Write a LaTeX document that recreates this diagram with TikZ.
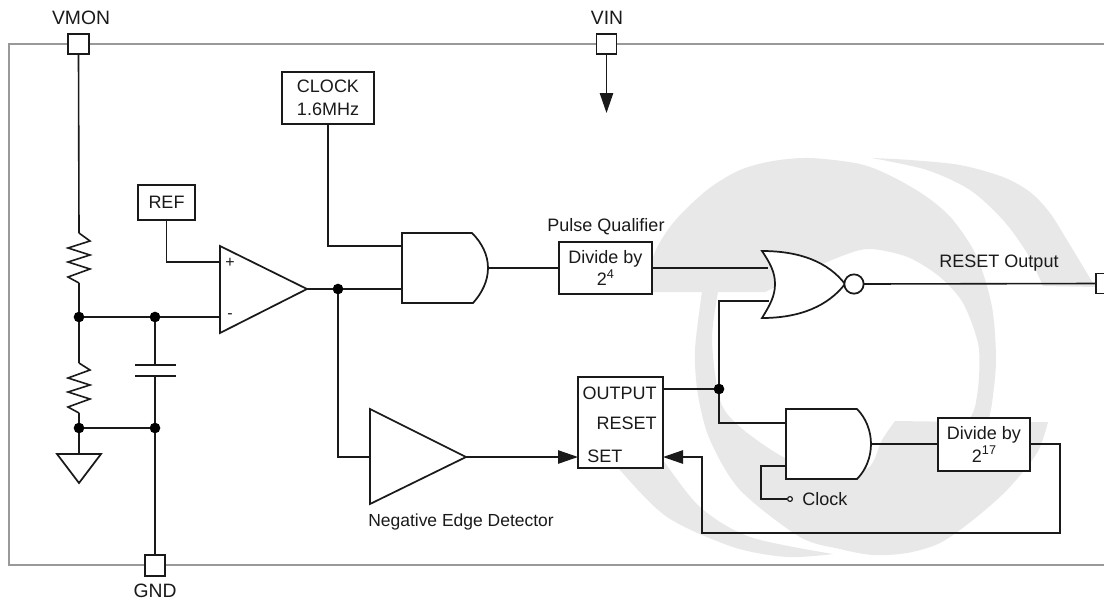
\documentclass[tikz,border=0pt]{standalone}
\usepackage{fontspec}
\setmainfont{Liberation Sans}
\usetikzlibrary{arrows.meta}
\definecolor{ink}{HTML}{1A1A1A}
\definecolor{wmgray}{HTML}{E8E8E8}
\definecolor{framegray}{HTML}{999999}
\newcommand{\supr}[1]{\raisebox{0.42em}{\fontsize{9.5pt}{9.5pt}\selectfont #1}}
\tikzset{
  wire/.style={draw=ink,line width=1.2pt,line join=miter},
  shapeln/.style={draw=ink,fill=white,line width=1.3pt,line join=miter},
  pxbox/.style 2 args={draw=ink,fill=white,line width=1.3pt,inner sep=0pt,outer sep=0pt,
     minimum width={#1*0.75pt},minimum height={#2*0.75pt},align=center,text=ink},
  jdot/.style={circle,fill=black,inner sep=0pt,outer sep=0pt,minimum size=8pt},
  lbl/.style={inner sep=0pt,text=ink,align=center},
  pinlbl/.style={lbl,font=\fontsize{14.5pt}{16pt}\selectfont},
  arrowed/.style={-{Triangle[length=15pt,width=10pt]}}
}
\begin{document}
\begin{tikzpicture}[x=0.75pt,y=-0.75pt,font=\fontsize{13.5pt}{16pt}\selectfont]
\useasboundingbox (0,0) rectangle (1104,601);
\clip (0,0) rectangle (1104,601);
\fill[white] (0,0) rectangle (1104,601);
% watermark
\fill[wmgray] (872,158) -- plot[smooth] coordinates {(872,158) (927,170) (970,190) (1003,220) (1027,253) (1043,286)}
   -- (1097,287) -- plot[smooth] coordinates {(1097,287) (1093,283) (1070,245) (1050,213) (1030,192) (1003,177) (960,165) (910,160) (872,158)} -- cycle;
\fill[wmgray,even odd rule] (652,292) -- plot[smooth] coordinates {(652,292) (653,257) (673,223) (707,190) (740,170) (773,161) (810,158) (860,164) (893,177) (927,197) (953,220) (977,257) (992,307) (996,360) (992,403) (988,422)}
   -- (1048,422) -- plot[smooth] coordinates {(1048,422) (1037,453) (1007,490) (973,520) (940,543) (907,553) (873,555) (840,549) (800,537) (740,490) (710,440) (698,395) (695,350) (702,292)} -- cycle
   (718,292) -- plot[smooth] coordinates {(718,292) (712,340) (720,400) (740,427) (785,458) (830,472) (868,468) (882,440) (895,421)}
   -- (968,422) -- plot[smooth] coordinates {(968,422) (975,407) (979,377) (978,343) (963,303) (940,277) (910,258) (880,250) (860,250) (827,262) (790,280) (765,292)} -- cycle;
\fill[wmgray] (612,455) -- plot[smooth] coordinates {(612,455) (620,470) (667,517) (733,547) (787,557) (833,554)}
   -- plot[smooth] coordinates {(833,554) (750,537) (700,507) (663,460) (650,440)} -- cycle;
% frame
\draw[framegray,line width=1.9pt] (9,44) rectangle (1130,565);

% terminals
\node[pxbox={21}{20}] (vmon) at (78.5,44) {};
\node[pxbox={20}{20}] (vin) at (606.5,44) {};
\node[pxbox={20}{21}] (gnd) at (155,565.5) {};
\node[pxbox={20}{20}] (rst) at (1106,283.5) {};
\node[pinlbl] (lvmon) at (81,18) {VMON};
\node[pinlbl] (lvin) at (607,18) {VIN};
\node[pinlbl] (lgnd) at (155,590.5) {GND};

% VIN arrow
\coordinate (vintip) at (606.5,113);
\draw[wire,arrowed] (vin.south) -- (vintip);

% boxes
\node[pxbox={92}{52}] (clock) at (328,98) {CLOCK\\[1pt]1.6MHz};
\node[pxbox={57}{35}] (ref) at (166.5,202.5) {REF};
\node[pxbox={93}{52}] (div4) at (605.5,268) {Divide by\\[1pt]2\supr{4}};
\node[pxbox={92}{53}] (div17) at (984,444.5) {Divide by\\[1pt]2\supr{17}};
\node[pxbox={85}{91}] (latch) at (620.5,422.5) {};
\node[lbl,anchor=east] (toutput) at (657,393) {OUTPUT};
\node[lbl,anchor=east] (treset) at (657,423) {RESET};
\node[lbl,anchor=west] (tset) at (587,456) {SET};
\node[lbl] (pq) at (606,227) {Pulse Qualifier};
\node[lbl] (ro) at (999,263) {RESET Output};
\node[lbl,font=\fontsize{13.1pt}{16pt}\selectfont] (ned) at (461,522) {Negative Edge Detector};
\node[lbl,anchor=west] (tclock) at (802,499) {Clock};

% ports
\coordinate (r1a) at (79,233); \coordinate (r1b) at (79,283);
\coordinate (r2a) at (79,363); \coordinate (r2b) at (79,413);
\coordinate (gndtop) at (79,454);
\coordinate (capa) at (155,365); \coordinate (capb) at (155,376);
\coordinate (ampplus) at (220,262); \coordinate (ampminus) at (220,317); \coordinate (ampout) at (307,289);
\coordinate (a1i1) at (402,246); \coordinate (a1i2) at (402,289); \coordinate (a1o) at (488,268);
\coordinate (n1) at (768,268); \coordinate (n2) at (769,301); \coordinate (nout) at (864,284);
\coordinate (a2i1) at (786,423); \coordinate (a2i2) at (786,466); \coordinate (a2o) at (871,444);
\coordinate (edgein) at (370,457); \coordinate (edgeout) at (466,457);
\coordinate (setpin) at (578,457); \coordinate (fbpin) at (663,457);
\node[jdot] (j1) at (79,317) {};
\node[jdot] (j2) at (155,317) {};
\node[jdot] (j3) at (79,428) {};
\node[jdot] (j4) at (155,428) {};
\node[jdot] (j5) at (338,289) {};
\node[jdot] (j6) at (719,389) {};
\node[circle,draw=ink,fill=white,line width=0.9pt,inner sep=0pt,minimum size=3.6pt] (clkpin) at (790,499) {};

% wires
\draw[wire] (vmon.south) -- (r1a);
\draw[wire] (r1a) -- (90,241) -- (68,248) -- (90,255) -- (68,262) -- (90,269) -- (68,277) -- (r1b);
\draw[wire] (r1b) -- (j1);
\draw[wire] (j1) -- (r2a);
\draw[wire] (r2a) -- (90,370) -- (68,378) -- (90,385) -- (68,392) -- (90,399) -- (68,407) -- (r2b);
\draw[wire] (r2b) -- (j3);
\draw[wire] (j3) -- (gndtop);
\draw[wire] (j1) -- (j2);
\draw[wire] (j2) -- (ampminus);
\draw[wire] (j2) -- (capa);
\draw[wire] (capb) -- (j4);
\draw[wire] (j3) -- (j4);
\draw[wire] (j4) -- (gnd.north);
\draw[wire] (135,365) -- (176,365);
\draw[wire] (135,376) -- (176,376);
\draw[wire] (ref.south) |- (ampplus);
\draw[wire] (ampout) -- (j5);
\draw[wire] (j5) -- (a1i2);
\draw[wire] (clock.south) |- (a1i1);
\draw[wire] (a1o) -- (a1o -| div4.west);
\draw[wire] (n1 -| div4.east) -- (n1);
\draw[wire] (j5) |- (edgein);
\draw[wire,arrowed] (edgeout) -- (setpin);
\draw[wire] (j6 -| latch.east) -- (j6);
\draw[wire] (j6) |- (n2);
\draw[wire] (j6) |- (a2i1);
\draw[wire] (a2i2) -| (761,499) -- (clkpin);
\draw[wire] (a2o) -- (a2o -| div17.west);
\draw[wire,arrowed] (a2o -| div17.east) -- (1060,444) -- (1060,533) -- (702,533) -- (702,457) -- (fbpin);
\draw[wire] (nout) -- (rst.west);

% gates
\draw[shapeln] (57,454) -- (101,454) -- (79,483) -- cycle;
\draw[shapeln] (220,246) -- (307,289) -- (220,333) -- cycle;
\node[lbl,font=\fontsize{12pt}{12pt}\selectfont] (plus) at (230,263) {+};
\node[lbl,font=\fontsize{12pt}{12pt}\selectfont] (minus) at (230,316) {-};
\draw[shapeln] (402,233) -- (472,233) .. controls (482,243) and (488,255) .. (488,268) .. controls (488,281) and (482,293) .. (473,303) -- (402,303) -- cycle;
\draw[shapeln] (786,409) -- (857,409) .. controls (866,418) and (871,431) .. (871,444) .. controls (871,457) and (866,470) .. (857,479) -- (786,479) -- cycle;
\draw[shapeln] (370,409) -- (466,457) -- (370,504) -- cycle;
\draw[shapeln] (762,251) .. controls (800,251) and (828,262) .. (845,284) .. controls (828,306) and (800,318) .. (762,318) .. controls (770,305) and (775,296) .. (775,284) .. controls (775,272) and (770,263) .. (762,251) -- cycle;
\node[circle,draw=ink,fill=white,line width=1.3pt,inner sep=0pt,outer sep=0pt,minimum size=14.5pt] (bubble) at (854,284) {};
\end{tikzpicture}
\end{document}
